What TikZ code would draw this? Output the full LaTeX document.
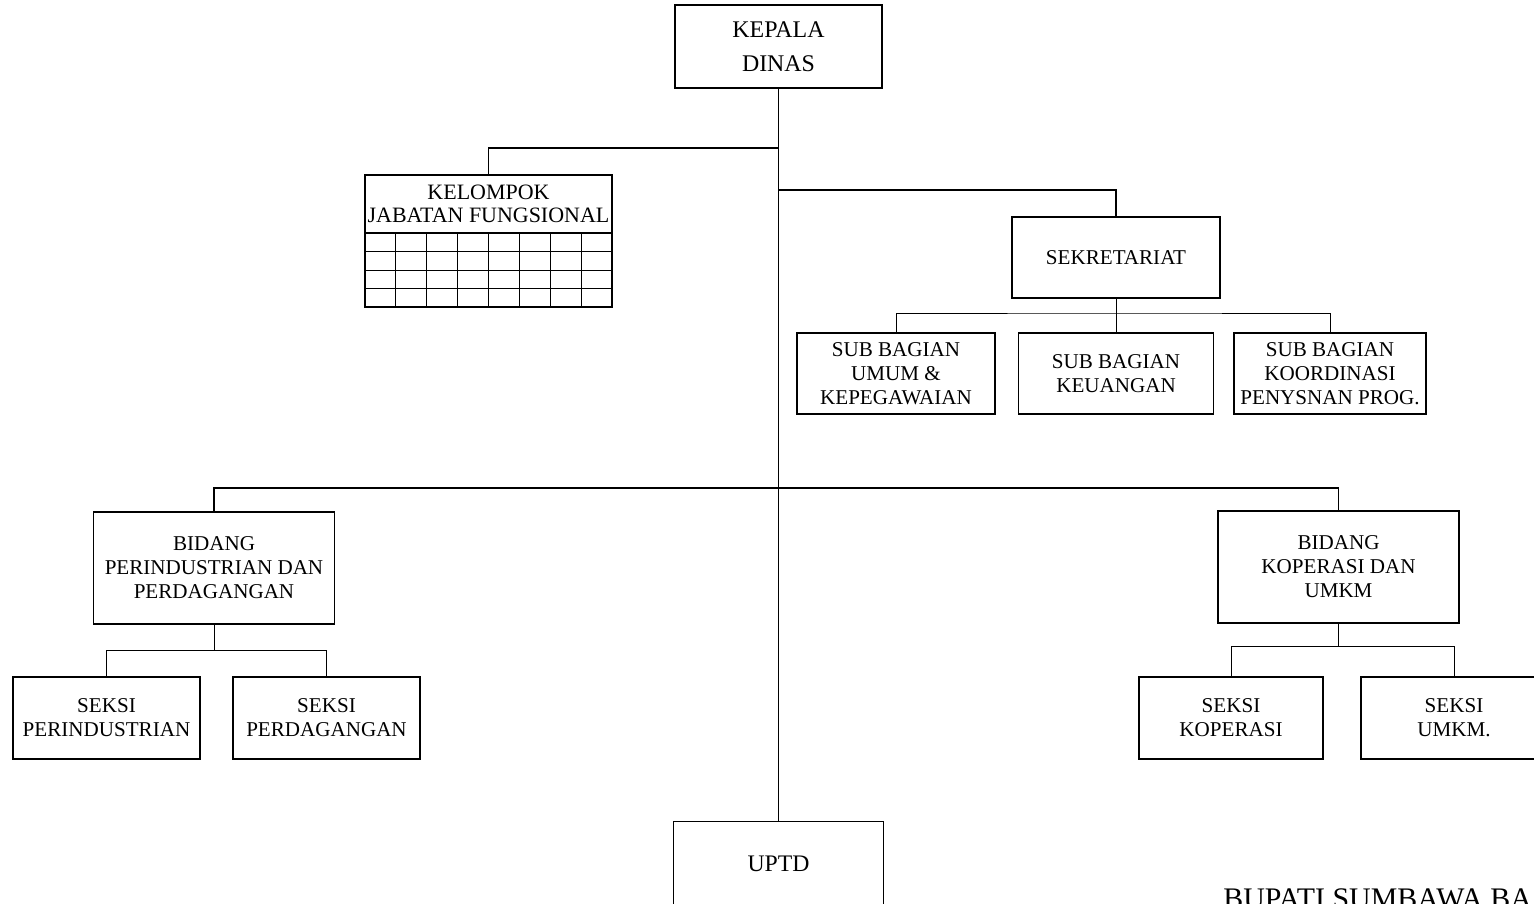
\documentclass[tikz,border=0pt]{standalone}
\usepackage{fontspec}
\setmainfont{Liberation Serif}
\begin{document}
\begin{tikzpicture}[x=0.02cm,y=-0.02cm,
  box/.style={draw, line width=0.75pt, inner sep=0pt, align=center, font=\fontsize{12}{13.6}\selectfont},
  sz/.style 2 args={minimum width=#1*0.02cm, minimum height=#2*0.02cm},
  major/.style={line width=1.1pt},
  minor/.style={line width=0.55pt},
  gridline/.style={line width=0.5pt}]
\useasboundingbox (0,0) rectangle (1534,903);
\clip (0,0) rectangle (1534,903);
% boxes
\node[box, sz={207}{83}, font=\fontsize{13.6}{19.3}\selectfont] (kepala) at (778.5,46.5) {KEPALA\\DINAS};
\node[box, sz={247}{58}, font=\fontsize{12.5}{13.2}\selectfont] (kel) at (488.5,204) {KELOMPOK\\JABATAN FUNGSIONAL};
\node[box, sz={208}{81}] (sekr) at (1116,257.5) {SEKRETARIAT};
\node[box, sz={198}{81}] (sub1) at (896,373.5) {SUB BAGIAN\\UMUM \&\\KEPEGAWAIAN};
\node[box, sz={195}{81}] (sub2) at (1116,373.5) {SUB BAGIAN\\KEUANGAN};
\node[box, sz={192}{81}] (sub3) at (1330,373.5) {SUB BAGIAN\\KOORDINASI\\PENYSNAN PROG.};
\node[box, sz={241}{112}] (bid1) at (214,568) {BIDANG\\PERINDUSTRIAN DAN\\PERDAGANGAN};
\node[box, sz={241}{112}] (bid2) at (1338.5,567) {BIDANG\\KOPERASI DAN\\UMKM};
\node[box, sz={187}{82}] (sk1) at (106.5,718) {SEKSI\\PERINDUSTRIAN};
\node[box, sz={187}{82}] (sk2) at (326.5,718) {SEKSI\\PERDAGANGAN};
\node[box, sz={184}{82}] (sk3) at (1231,718) {SEKSI\\KOPERASI};
\node[box, sz={186}{82}] (sk4) at (1454,718) {SEKSI\\UMKM.};
\node[box, sz={210}{84}, font=\fontsize{13.5}{15}\selectfont] (uptd) at (778.5,863.5) {UPTD};
\node[anchor=base west, inner sep=0pt, font=\fontsize{17}{20}\selectfont] (bupati) at (1223,908) {BUPATI SUMBAWA BA};
% grid under kelompok
\draw[line width=0.75pt] (365,233) rectangle (612,307);
\foreach \i in {1,...,7} \draw[gridline] ({365+\i*30.875},233) -- ({365+\i*30.875},307);
\foreach \j in {1,2,3} \draw[gridline] (365,{233+\j*18.5}) -- (612,{233+\j*18.5});
% junctions
\coordinate (jk) at (778.5,148);
\coordinate (js) at (778.5,190);
\coordinate (jb) at (778.5,488);
\coordinate (jsub) at (1116,313);
\coordinate (h1) at (214,650);
\coordinate (h2) at (1338.5,646);
% connectors
\draw[major] (kepala.south) -- (uptd.north);
\draw[major] (jk) -| (kel.north);
\draw[major] (js) -| (sekr.north);
\draw[major] (bid1.north) |- (jb) -| (bid2.north);
\draw[minor] (sekr.south) -- (sub2.north);
\draw[minor] (sub1.north) |- (jsub) -| (sub3.north);
\draw[minor] (bid1.south) -- (h1);
\draw[minor] (sk1.north) |- (h1) -| (sk2.north);
\draw[minor] (bid2.south) -- (h2);
\draw[minor] (sk3.north) |- (h2) -| (sk4.north);
\end{tikzpicture}
\end{document}
